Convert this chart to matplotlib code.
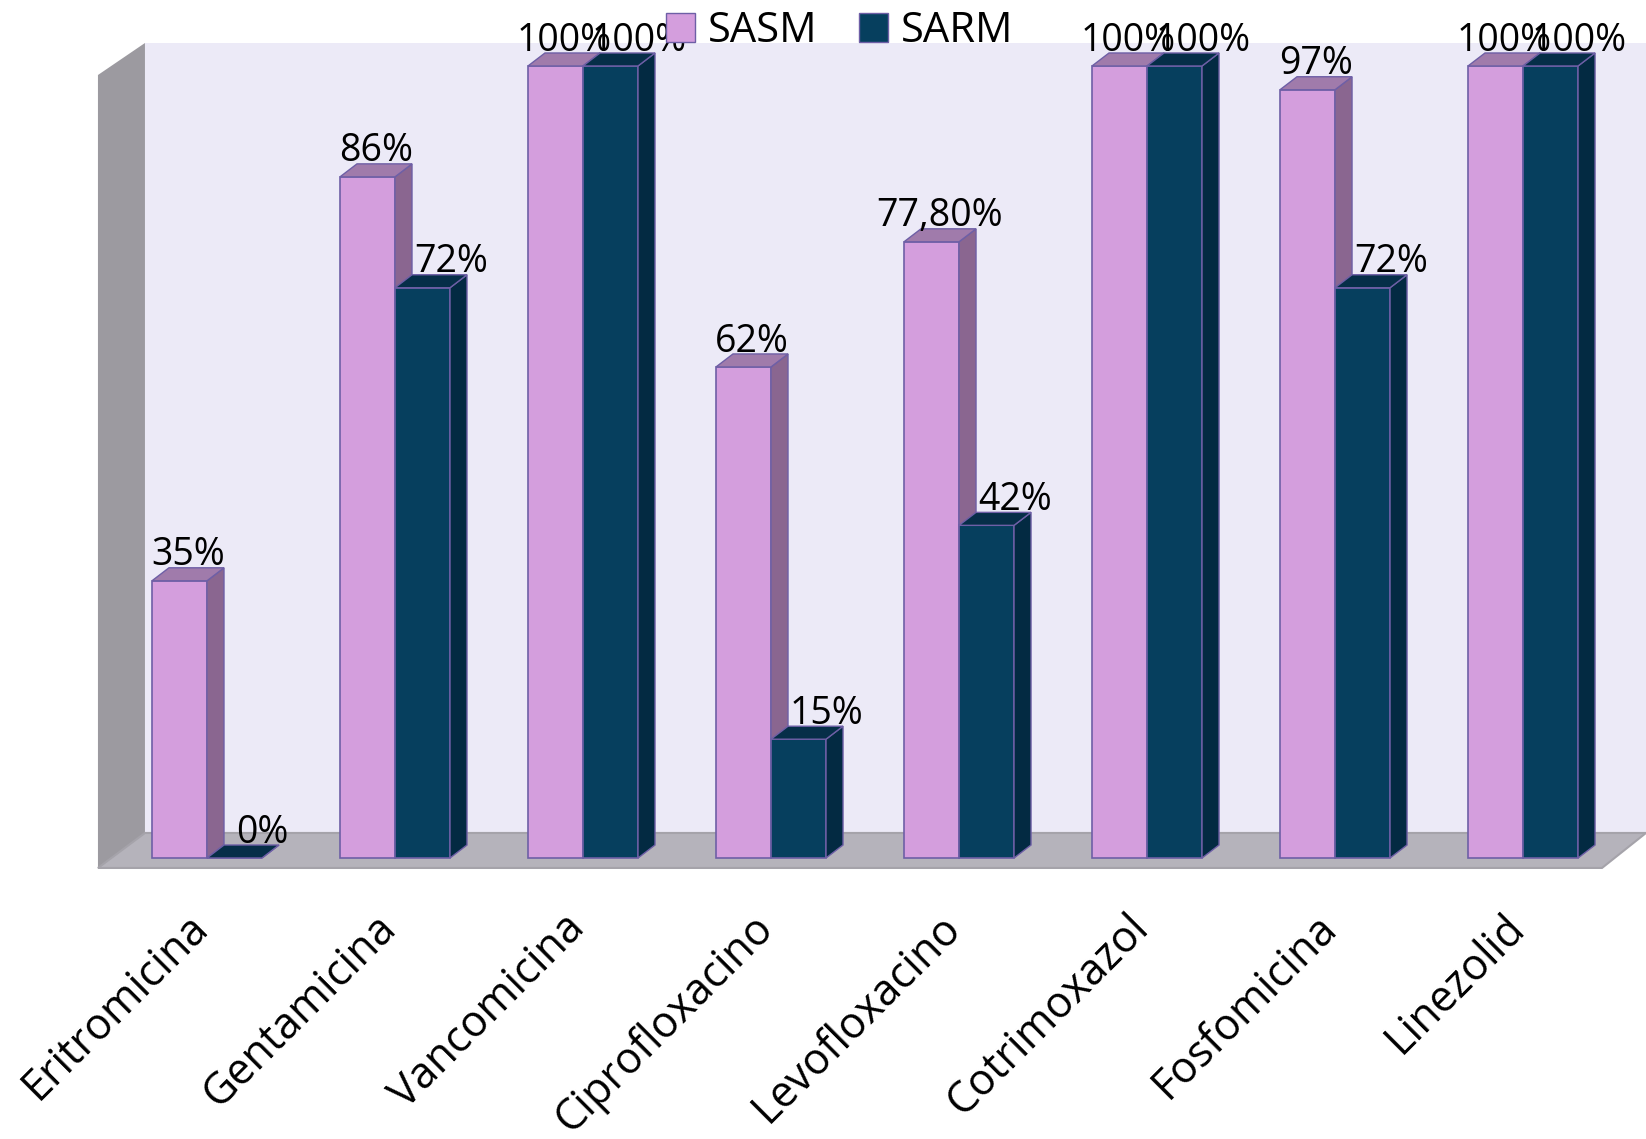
import matplotlib.pyplot as plt
from matplotlib.patches import Polygon, Patch

antibioticos = ["Eritromicina", "Gentamicina", "Vancomicina", "Ciprofloxacino",
                "Levofloxacino", "Cotrimoxazol", "Fosfomicina", "Linezolid"]
sasm = [35, 86, 100, 62, 77.8, 100, 97, 100]
sarm = [0, 72, 100, 15, 42, 100, 72, 100]
series = ["SASM", "SARM"]

# colores (frente, lateral, techo)
col_sasm = ("#D49EDD", "#8A6690", "#A07BAB")
col_sarm = ("#063F5E", "#032A42", "#062E48")
borde = "#6E5FA6"

plt.rcParams["font.family"] = ["Open Sans", "DejaVu Sans"]

fig = plt.figure(figsize=(16.46, 11.39), dpi=100)
ax = fig.add_axes([0, 0, 1, 1])
ax.set_xlim(-1.101, 7.654)
ax.set_ylim(-35.48, 108.33)
ax.axis("off")

# paredes y suelo del "3D"
x_ext, x_int, x_fin = -0.580, -0.330, 7.654
y_suelo_del, y_suelo_tras, y_techo = -1.26, 3.16, 102.9
ax.add_patch(Polygon([(x_int, y_suelo_tras), (x_int, y_techo), (x_fin, y_techo), (x_fin, y_suelo_tras)],
                     closed=True, facecolor="#ECEAF7", edgecolor="none", zorder=0))
ax.add_patch(Polygon([(x_ext, y_suelo_del), (x_ext, y_techo - 4.04), (x_int, y_techo), (x_int, y_suelo_tras)],
                     closed=True, facecolor="#9C9AA0", edgecolor="none", zorder=1))
ax.add_patch(Polygon([(x_ext, y_suelo_del), (x_int, y_suelo_tras), (x_fin, y_suelo_tras),
                      (x_fin - 0.234, y_suelo_del)],
                     closed=True, facecolor="#B5B3BB", edgecolor="#A5A3AA", lw=1.5, zorder=1))

ancho = 0.2926
dx, dy = 0.0904, 1.64


def barra3d(x, v, cols):
    # frente
    ax.bar(x, v, width=ancho, align="edge", color=cols[0], edgecolor=borde, linewidth=1.2, zorder=3)
    # lateral
    ax.add_patch(Polygon([(x + ancho, 0), (x + ancho + dx, dy), (x + ancho + dx, v + dy), (x + ancho, v)],
                         closed=True, facecolor=cols[1], edgecolor=borde, lw=1.0, zorder=3))
    # techo
    ax.add_patch(Polygon([(x, v), (x + dx, v + dy), (x + ancho + dx, v + dy), (x + ancho, v)],
                         closed=True, facecolor=cols[2], edgecolor=borde, lw=1.0, zorder=3))


def etiqueta(v):
    if v == int(v):
        return f"{v:.0f}%"
    return f"{v:.2f}%".replace(".", ",")


for i in range(len(antibioticos)):
    barra3d(i - ancho, sasm[i], col_sasm)
    barra3d(i, sarm[i], col_sarm)
    ax.text(i - ancho / 2 + dx / 2, sasm[i] + dy + 0.3, etiqueta(sasm[i]),
            ha="center", va="baseline", fontsize=27, zorder=5)
    ax.text(i + ancho / 2 + 0.15, sarm[i] + dy + 0.3, etiqueta(sarm[i]),
            ha="center", va="baseline", fontsize=27, zorder=5)
    ax.text(i - 0.11, -6.0, antibioticos[i], rotation=45, rotation_mode="anchor",
            ha="right", va="top", fontsize=31, zorder=5)

handles = [Patch(facecolor=col_sasm[0], edgecolor=borde, label=series[0]),
           Patch(facecolor=col_sarm[0], edgecolor=borde, label=series[1])]
fig.legend(handles=handles, loc="center", bbox_to_anchor=(0.51, 0.973), ncol=2,
           frameon=False, fontsize=30, handlelength=0.7, handleheight=0.7,
           handletextpad=0.3, columnspacing=1.0, borderpad=0)

plt.savefig("out.png", dpi=100)
